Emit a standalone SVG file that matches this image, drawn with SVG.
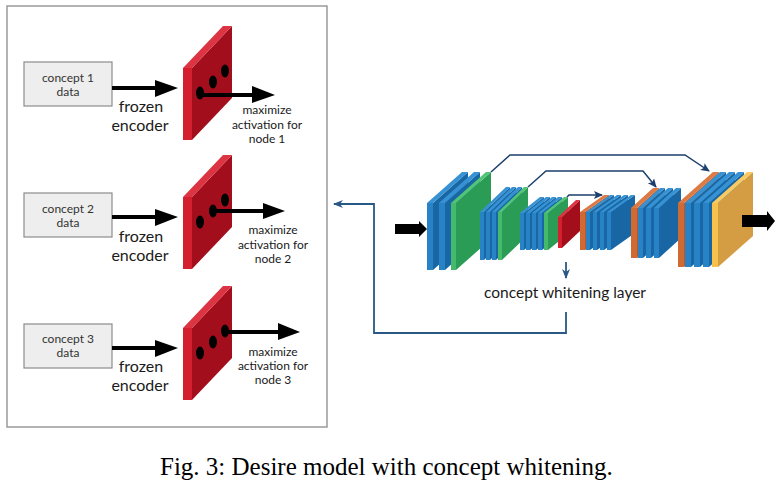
<svg xmlns="http://www.w3.org/2000/svg" width="777" height="488" viewBox="0 0 777 488">
<style>
.lato{font-family:Lato,"Open Sans","Liberation Sans",sans-serif;}
.btxt{font-size:12px;fill:#333;text-anchor:middle;}
.enc{font-size:16px;fill:#1a1a1a;text-anchor:middle;}
.max{font-size:12px;fill:#1a1a1a;text-anchor:middle;}
.cbox{fill:#eeeeee;stroke:#8c8c8c;stroke-width:1.2;}
.thick{stroke:#000;stroke-width:4;fill:none;}
.bf{fill:#2882c6}.bs{fill:#1867a4}.bt{fill:#3792d4}
.gf{fill:#45b96c}.gs{fill:#2b9c55}.gt{fill:#52c478}
.rf{fill:#d41f2f}.rs{fill:#a30e1c}.rt{fill:#dc3442}
.of{fill:#cf6a35}.os{fill:#b9572a}.ot{fill:#dd7a44}
.yf{fill:#f7c14c}.ys{fill:#d49c43}.yt{fill:#f8cb62}
.skip{stroke:#1d3f6d;stroke-width:1.5;fill:none;}
.fb{stroke:#2a5884;stroke-width:1.8;fill:none;}
</style>
<defs>
<marker id="ah" markerUnits="userSpaceOnUse" markerWidth="10" markerHeight="10" refX="8" refY="4" orient="auto">
<path d="M0,0 L9,4 L0,8 L2,4 z" fill="#1d3f6d"/>
</marker>
<marker id="ahf" markerUnits="userSpaceOnUse" markerWidth="12" markerHeight="10" refX="9" refY="4" orient="auto">
<path d="M0,0 L10,4 L0,8 L3,4 z" fill="#2a5884"/>
</marker>
<g id="panel">
<polygon class="rs" points="192,68 232,26 232,98 192,140"/>
<polygon class="rt" points="183,68 223,26 232,26 192,68"/>
<rect class="rf" x="183" y="68" width="9" height="72"/>
<ellipse cx="200" cy="93" rx="4" ry="6.5" fill="#000"/>
<ellipse cx="213" cy="82" rx="4" ry="6.5" fill="#000"/>
<ellipse cx="225" cy="71" rx="4" ry="6.5" fill="#000"/>
</g>
</defs>
<rect width="777" height="488" fill="#fff"/>

<g id="left-panel">
<rect x="7" y="6" width="320" height="421" fill="#fff" stroke="#9a9a9a" stroke-width="1.5"/>
</g>

<g id="concept1" class="lato">
<rect class="cbox" x="24" y="62" width="88" height="44"/>
<text class="btxt" x="68" y="82">concept 1</text>
<text class="btxt" x="68" y="96">data</text>
</g>
<g id="concept2" class="lato">
<rect class="cbox" x="24" y="193" width="88" height="44"/>
<text class="btxt" x="68" y="213">concept 2</text>
<text class="btxt" x="68" y="227">data</text>
</g>
<g id="concept3" class="lato">
<rect class="cbox" x="24" y="324" width="88" height="44"/>
<text class="btxt" x="68" y="343">concept 3</text>
<text class="btxt" x="68" y="357">data</text>
</g>

<g id="encoder1"><use href="#panel"/></g>
<g id="encoder2"><use href="#panel" transform="translate(0,129)"/></g>
<g id="encoder3"><use href="#panel" transform="translate(0,260)"/></g>

<g id="labels-left" class="lato">
<text class="enc" x="141" y="112">frozen</text>
<text class="enc" x="140" y="131">encoder</text>
<text class="enc" x="141" y="242">frozen</text>
<text class="enc" x="140" y="261">encoder</text>
<text class="enc" x="141" y="372">frozen</text>
<text class="enc" x="140" y="391">encoder</text>
<text class="max" x="267" y="114">maximize</text>
<text class="max" x="267" y="129">activation for</text>
<text class="max" x="267" y="143">node 1</text>
<text class="max" x="273" y="234">maximize</text>
<text class="max" x="273" y="249">activation for</text>
<text class="max" x="273" y="263">node 2</text>
<text class="max" x="273" y="356">maximize</text>
<text class="max" x="273" y="370">activation for</text>
<text class="max" x="273" y="384">node 3</text>
</g>

<g id="network">
<!-- G1 -->
<polygon class="bs" points="433,203 468,172 468,239 433,270"/><polygon class="bt" points="427,203 462,172 468,172 433,203"/><rect class="bf" x="427" y="203" width="6" height="67"/>
<polygon class="bs" points="445,203 480,172 480,239 445,270"/><polygon class="bt" points="439,203 474,172 480,172 445,203"/><rect class="bf" x="439" y="203" width="6" height="67"/>
<polygon class="gs" points="456,203 491,172 491,239 456,270"/><polygon class="gt" points="451,203 486,172 491,172 456,203"/><rect class="gf" x="451" y="203" width="5" height="67"/>
<!-- G2 -->
<polygon class="bs" points="484,212 510,187 510,235 484,260"/><polygon class="bt" points="480,212 506,187 510,187 484,212"/><rect class="bf" x="480" y="212" width="4" height="48"/>
<polygon class="bs" points="490,212 516,187 516,235 490,260"/><polygon class="bt" points="486,212 512,187 516,187 490,212"/><rect class="bf" x="486" y="212" width="4" height="48"/>
<polygon class="bs" points="496,212 522,187 522,235 496,260"/><polygon class="bt" points="492,212 518,187 522,187 496,212"/><rect class="bf" x="492" y="212" width="4" height="48"/>
<polygon class="gs" points="502,212 528,187 528,235 502,260"/><polygon class="gt" points="498,212 524,187 528,187 502,212"/><rect class="gf" x="498" y="212" width="4" height="48"/>
<!-- G3 -->
<polygon class="bs" points="524,213 544,197 544,234 524,250"/><polygon class="bt" points="520,213 540,197 544,197 524,213"/><rect class="bf" x="520" y="213" width="4" height="37"/>
<polygon class="bs" points="530,213 550,197 550,234 530,250"/><polygon class="bt" points="526,213 546,197 550,197 530,213"/><rect class="bf" x="526" y="213" width="4" height="37"/>
<polygon class="bs" points="536,213 556,197 556,234 536,250"/><polygon class="bt" points="532,213 552,197 556,197 536,213"/><rect class="bf" x="532" y="213" width="4" height="37"/>
<polygon class="bs" points="542,213 562,197 562,234 542,250"/><polygon class="bt" points="538,213 558,197 562,197 542,213"/><rect class="bf" x="538" y="213" width="4" height="37"/>
<polygon class="gs" points="548,213 568,197 568,234 548,250"/><polygon class="gt" points="544,213 564,197 568,197 548,213"/><rect class="gf" x="544" y="213" width="4" height="37"/>
<!-- concept whitening layer -->
<polygon class="rs" points="562,217 580,200 580,231 562,248"/><polygon class="rt" points="558,217 576,200 580,200 562,217"/><rect class="rf" x="558" y="217" width="4" height="31"/>
<!-- G4 -->
<polygon class="os" points="585,212 609,195 609,233 585,250"/><polygon class="ot" points="580,212 604,195 609,195 585,212"/><rect class="of" x="580" y="212" width="5" height="38"/>
<polygon class="bs" points="590,212 614,195 614,233 590,250"/><polygon class="bt" points="586,212 610,195 614,195 590,212"/><rect class="bf" x="586" y="212" width="4" height="38"/>
<polygon class="bs" points="597,212 621,195 621,233 597,250"/><polygon class="bt" points="593,212 617,195 621,195 597,212"/><rect class="bf" x="593" y="212" width="4" height="38"/>
<polygon class="bs" points="604,212 628,195 628,233 604,250"/><polygon class="bt" points="600,212 624,195 628,195 604,212"/><rect class="bf" x="600" y="212" width="4" height="38"/>
<polygon class="bs" points="611,212 635,195 635,233 611,250"/><polygon class="bt" points="607,212 631,195 635,195 611,212"/><rect class="bf" x="607" y="212" width="4" height="38"/>
<!-- G5 -->
<polygon class="os" points="637,208 659,188 659,238 637,258"/><polygon class="ot" points="631,208 653,188 659,188 637,208"/><rect class="of" x="631" y="208" width="6" height="50"/>
<polygon class="bs" points="643,208 665,188 665,238 643,258"/><polygon class="bt" points="638,208 660,188 665,188 643,208"/><rect class="bf" x="638" y="208" width="5" height="50"/>
<polygon class="bs" points="651,208 673,188 673,238 651,258"/><polygon class="bt" points="646,208 668,188 673,188 651,208"/><rect class="bf" x="646" y="208" width="5" height="50"/>
<polygon class="bs" points="659,208 681,188 681,238 659,258"/><polygon class="bt" points="654,208 676,188 681,188 659,208"/><rect class="bf" x="654" y="208" width="5" height="50"/>
<!-- G6 -->
<polygon class="os" points="684,203 719,172 719,236 684,267"/><polygon class="ot" points="678,203 713,172 719,172 684,203"/><rect class="of" x="678" y="203" width="6" height="64"/>
<polygon class="bs" points="691,203 726,172 726,236 691,267"/><polygon class="bt" points="685,203 720,172 726,172 691,203"/><rect class="bf" x="685" y="203" width="6" height="64"/>
<polygon class="bs" points="700,203 735,172 735,236 700,267"/><polygon class="bt" points="694,203 729,172 735,172 700,203"/><rect class="bf" x="694" y="203" width="6" height="64"/>
<polygon class="bs" points="709,203 744,172 744,236 709,267"/><polygon class="bt" points="703,203 738,172 744,172 709,203"/><rect class="bf" x="703" y="203" width="6" height="64"/>
<polygon class="ys" points="718,203 753,172 753,236 718,267"/><polygon class="yt" points="712,203 747,172 753,172 718,203"/><rect class="yf" x="712" y="203" width="6" height="64"/>
</g>

<g id="cw-label" class="lato">
<text x="565" y="298" font-size="15.5" fill="#1a1a1a" text-anchor="middle">concept whitening layer</text>
</g>

<g id="connectors">
<line class="thick" x1="112" y1="88" x2="157" y2="88"/><polygon points="155,80 178,88 155,97" fill="#000"/>
<line class="thick" x1="112" y1="217" x2="157" y2="217"/><polygon points="155,209 178,217 155,226" fill="#000"/>
<line class="thick" x1="112" y1="348" x2="157" y2="348"/><polygon points="155,340 178,348 155,357" fill="#000"/>
<line class="thick" x1="200" y1="95" x2="254" y2="95"/><polygon points="252,86 275,95 252,103" fill="#000"/>
<line class="thick" x1="213" y1="211" x2="265" y2="211"/><polygon points="263,203 285,211 263,219" fill="#000"/>
<line class="thick" x1="227" y1="332" x2="280" y2="332"/><polygon points="278,323 300,332 278,340" fill="#000"/>
<polygon points="395,224 419,224 419,221 427,229 419,237 419,234 395,234" fill="#000"/>
<polygon points="742,215 767,215 767,211 775,221 767,231 767,227 742,227" fill="#000"/>
<path class="skip" d="M491,172 L510,155 L685,155 L709,171" marker-end="url(#ah)"/>
<path class="skip" d="M528,187 L546,171 L643,171 L656,187" marker-end="url(#ah)"/>
<path class="skip" d="M567,197 L569,195 L602,195" marker-end="url(#ah)"/>
<path class="fb" d="M566,262 L566,278" marker-end="url(#ahf)"/>
<path class="fb" d="M566,312 L566,333 L374,333 L374,204 L334,204" marker-end="url(#ahf)"/>
</g>

<g id="caption">
<text x="160" y="475" font-family="'Liberation Serif','Times New Roman',serif" font-size="25" fill="#000">Fig. 3: Desire model with concept whitening.</text>
</g>
</svg>
